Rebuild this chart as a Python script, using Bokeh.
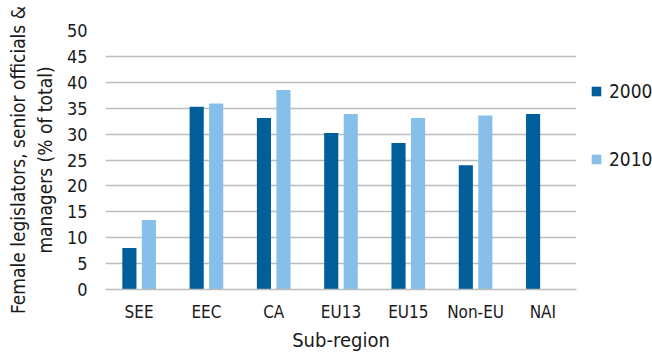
from bokeh.plotting import figure
from bokeh.layouts import row
from bokeh.models import ColumnDataSource, FactorRange, Range1d, Legend, LegendItem, FixedTicker
from bokeh.transform import dodge
from bokeh.embed import file_html
from bokeh.resources import INLINE

# Female legislators, senior officials & managers by sub-region (% of total)
regions = ["SEE", "EEC", "CA", "EU13", "EU15", "Non-EU", "NAI"]
share_2000 = [8.0, 35.3, 33.1, 30.2, 28.3, 24.0, 33.9]
share_2010 = [13.4, 35.9, 38.5, 33.9, 33.1, 33.6, float("nan")]
years = ["2000", "2010"]
y_ticks = [0, 5, 10, 15, 20, 25, 30, 35, 40, 45, 50]

FONT = "DejaVu Sans Condensed"
TEXT = "#1a1a1a"
COLORS = ["#005E9A", "#86C0EA"]

source = ColumnDataSource(dict(region=regions, y2000=share_2000, y2010=share_2010))

p = figure(
    x_range=FactorRange(*regions, range_padding=0),
    y_range=Range1d(0, 50),
    width=577, height=354,
    output_backend="svg", toolbar_location=None,
    min_border_left=105, min_border_right=1,
    min_border_top=30, min_border_bottom=64,
)

p.vbar(x=dodge("region", -0.145, range=p.x_range), top="y2000", width=0.21,
       source=source, color=COLORS[0], line_color=None)
p.vbar(x=dodge("region", 0.145, range=p.x_range), top="y2010", width=0.21,
       source=source, color=COLORS[1], line_color=None)

p.outline_line_color = None
p.xgrid.grid_line_color = None
p.ygrid.grid_line_color = "#BDBDBD"
p.ygrid.grid_line_width = 1.5

p.yaxis.ticker = FixedTicker(ticks=y_ticks)
p.yaxis.axis_line_color = None
p.yaxis.major_tick_line_color = None
p.yaxis.minor_tick_line_color = None
p.yaxis.major_label_standoff = 12
p.yaxis.major_label_text_font = FONT
p.yaxis.major_label_text_font_size = "18px"
p.yaxis.major_label_text_color = TEXT
p.yaxis.axis_label = "Female legislators, senior officials &\nmanagers (% of total)"
p.yaxis.axis_label_text_font = FONT
p.yaxis.axis_label_text_font_size = "19px"
p.yaxis.axis_label_text_font_style = "normal"
p.yaxis.axis_label_text_color = TEXT
p.yaxis.axis_label_standoff = 8

p.xaxis.axis_line_color = "#BDBDBD"
p.xaxis.axis_line_width = 1.5
p.xaxis.major_tick_line_color = None
p.xaxis.minor_tick_line_color = None
p.xaxis.major_label_standoff = 6
p.xaxis.major_label_text_font = FONT
p.xaxis.major_label_text_font_size = "17px"
p.xaxis.major_label_text_color = TEXT
p.xaxis.axis_label = "Sub-region"
p.xaxis.axis_label_text_font = FONT
p.xaxis.axis_label_text_font_size = "20px"
p.xaxis.axis_label_text_font_style = "normal"
p.xaxis.axis_label_text_color = TEXT
p.xaxis.axis_label_standoff = 3

# Legend panel to the right of the chart
key = figure(
    width=75, height=354,
    x_range=Range1d(0, 1), y_range=Range1d(0, 1),
    x_axis_location=None, y_axis_location=None,
    output_backend="svg", toolbar_location=None,
    min_border=0, outline_line_color=None,
)
key.grid.visible = False
swatches = [key.vbar(x=[0], top=[0], width=0, color=c, line_color=None) for c in COLORS]

legend = Legend(
    items=[LegendItem(label=y, renderers=[r]) for y, r in zip(years, swatches)],
    location=(13, 119),
    orientation="vertical",
    spacing=46,
    glyph_width=12, glyph_height=12,
    label_standoff=7,
    label_text_font=FONT,
    label_text_font_size="19px",
    label_text_color=TEXT,
    background_fill_alpha=0,
    border_line_color=None,
    padding=0, margin=0,
)
key.add_layout(legend, "center")

layout = row(p, key, spacing=0)
open("out.html", "w").write(file_html(layout, INLINE))
